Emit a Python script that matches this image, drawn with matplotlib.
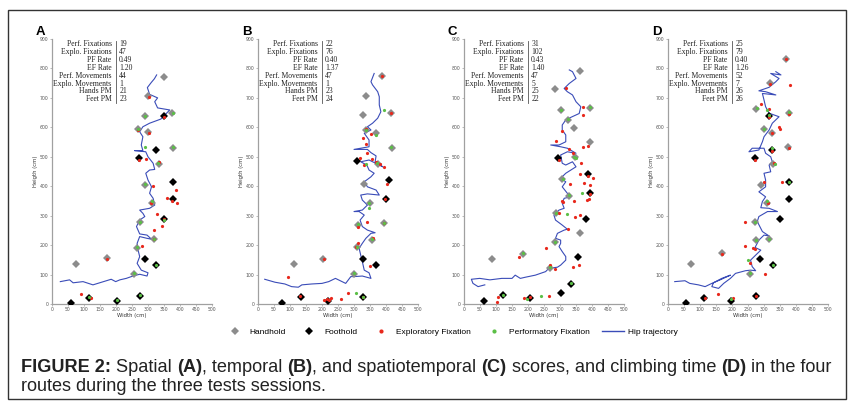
import numpy as np
import matplotlib
matplotlib.use('Agg')
from matplotlib import pyplot as plt
from matplotlib.lines import Line2D
from matplotlib.patches import Rectangle

W, H = 849, 405

stat_labels = ['Perf. Fixations', 'Explo. Fixations', 'PF Rate', 'EF Rate',
               'Perf. Movements', 'Explo. Movements', 'Hands PM', 'Feet PM']

# ---- panel A ----
a_stats = ['19', '47', '0.49', '1.20', '44', '1', '21', '23']
a_hand = [(350, 772), (300, 706), (291, 638), (376, 647), (269, 593), (300, 583), (377, 531), (335, 475),
          (292, 404), (312, 344), (274, 277), (319, 220), (267, 191), (173, 155), (76, 135), (257, 103)]
a_foot = [(349, 637), (326, 523), (272, 495), (379, 413), (379, 355), (349, 288), (290, 153), (325, 131),
          (276, 27), (202, 11), (115, 21), (60, 2)]
a_red = [(302, 704), (349, 635), (270, 591), (302, 580), (273, 489), (294, 492), (334, 483), (316, 401),
         (359, 359), (376, 351), (386, 387), (390, 342), (310, 342), (329, 307), (320, 252), (343, 264),
         (350, 289), (280, 197), (320, 220), (173, 153), (92, 33), (121, 21)]
a_green = [(290, 639), (377, 648), (269, 594), (291, 532), (377, 532), (330, 478), (291, 407), (312, 350),
           (274, 279), (319, 221), (267, 193), (257, 106), (325, 133), (349, 286), (117, 25), (276, 29),
           (202, 13)]
a_hip = [(26, 76), (55, 82), (66, 72), (97, 76), (128, 65), (149, 72), (170, 79), (185, 84), (199, 76),
         (212, 82), (232, 87), (253, 95), (274, 101), (297, 95), (300, 106), (279, 115), (266, 138),
         (274, 161), (269, 183), (266, 206), (274, 229), (297, 223), (311, 220), (297, 234), (274, 238),
         (264, 263), (274, 285), (290, 297), (284, 308), (274, 319), (305, 325), (321, 336), (316, 359),
         (305, 376), (311, 398), (300, 421), (293, 444), (305, 455), (321, 457), (316, 478), (300, 500),
         (293, 517), (258, 521), (284, 521), (279, 540), (284, 568), (274, 585), (284, 602), (305, 614),
         (340, 628), (368, 659), (330, 666), (321, 687), (330, 700), (305, 712), (298, 735), (310, 752),
         (320, 765), (327, 778)]

# ---- panel B ----
b_stats = ['22', '76', '0.40', '1.37', '47', '1', '23', '24']
b_hand = [(386, 774), (338, 707), (327, 642), (416, 650), (338, 591), (368, 582), (418, 530), (374, 475),
          (332, 406), (350, 344), (312, 267), (394, 276), (356, 217), (308, 192), (204, 152), (113, 135),
          (300, 103)]
b_foot = [(310, 485), (408, 422), (399, 355), (328, 152), (368, 134), (327, 23), (219, 10), (134, 23),
          (76, 5)]
b_red = [(386, 775), (416, 648), (339, 594), (354, 577), (327, 563), (338, 542), (340, 514), (318, 495),
         (332, 472), (355, 491), (369, 483), (382, 475), (393, 464), (404, 406), (397, 355), (395, 276),
         (342, 277), (311, 263), (311, 208), (307, 192), (360, 223), (350, 129), (205, 152), (93, 91),
         (130, 27), (207, 14), (228, 22), (258, 17), (281, 36), (328, 25), (215, 18), (222, 12)]
b_green = [(393, 658), (338, 592), (368, 575), (338, 475), (372, 478), (347, 342), (347, 327), (313, 271),
           (395, 274), (356, 220), (308, 195), (300, 105), (305, 36), (327, 25), (415, 532)]
b_hip = [(21, 84), (53, 74), (84, 68), (105, 59), (126, 57), (137, 65), (168, 68), (200, 70), (221, 76),
         (242, 87), (274, 70), (290, 93), (300, 93), (326, 95), (353, 87), (347, 106), (332, 115),
         (326, 144), (321, 166), (316, 189), (326, 206), (337, 223), (353, 240), (366, 242), (342, 251),
         (326, 263), (319, 285), (332, 302), (316, 314), (300, 314), (326, 319), (342, 336), (326, 353),
         (321, 370), (342, 374), (379, 370), (369, 387), (342, 398), (332, 415), (353, 432), (363, 444),
         (347, 455), (340, 472), (321, 483), (347, 489), (390, 466), (366, 483), (369, 503), (353, 514),
         (342, 525), (300, 525), (347, 534), (347, 557), (332, 580), (342, 585), (353, 591), (342, 602),
         (358, 614), (374, 631), (384, 653), (379, 676), (379, 704), (374, 721), (358, 744), (353, 755),
         (363, 783)]

# ---- panel C ----
c_stats = ['31', '102', '0.43', '1.40', '47', '5', '25', '22']
c_hand = [(362, 792), (284, 729), (304, 659), (393, 667), (326, 625), (343, 599), (394, 551), (347, 500),
          (307, 423), (328, 368), (289, 308), (363, 240), (284, 211), (183, 170), (88, 154), (270, 123)]
c_foot = [(295, 495), (386, 441), (394, 378), (382, 288), (357, 161), (334, 68), (302, 38), (205, 22),
          (121, 31), (63, 11)]
c_red = [(318, 733), (372, 670), (373, 642), (305, 588), (288, 555), (329, 525), (371, 532), (387, 538),
         (341, 512), (297, 490), (367, 480), (362, 443), (386, 434), (402, 429), (330, 408), (374, 412),
         (394, 403), (305, 350), (309, 345), (383, 353), (392, 355), (395, 373), (344, 350), (363, 302),
         (347, 297), (298, 308), (326, 254), (257, 190), (173, 158), (360, 134), (341, 127), (270, 131),
         (283, 118), (265, 28), (207, 25), (189, 20), (105, 25), (102, 8)]
c_green = [(304, 659), (393, 668), (326, 627), (349, 495), (343, 500), (310, 424), (369, 376), (328, 370),
           (289, 310), (322, 305), (284, 212), (183, 172), (270, 127), (334, 70), (240, 28), (197, 16),
           (121, 31)]
c_hip = [(65, 65), (44, 59), (28, 70), (23, 84), (49, 87), (81, 82), (118, 87), (150, 87), (160, 98),
         (176, 87), (192, 91), (223, 98), (255, 110), (265, 121), (292, 125), (302, 132), (318, 149),
         (318, 161), (307, 178), (297, 195), (302, 206), (302, 217), (286, 223), (292, 240), (313, 251),
         (323, 254), (307, 268), (286, 285), (281, 302), (297, 319), (313, 325), (307, 342), (313, 359),
         (334, 364), (323, 376), (307, 398), (318, 415), (302, 427), (318, 444), (334, 455), (350, 466),
         (339, 483), (318, 472), (307, 478), (302, 506), (323, 517), (350, 512), (323, 529), (302, 534),
         (271, 540), (297, 540), (318, 551), (318, 574), (307, 591), (307, 608), (318, 625), (334, 634),
         (360, 647), (365, 670), (350, 687), (339, 710), (323, 721), (313, 732), (329, 749), (350, 766),
         (339, 789), (329, 795)]

# ---- panel D ----
d_stats = ['25', '79', '0.40', '1.26', '52', '7', '26', '26']
d_hand = [(369, 831), (318, 749), (274, 662), (377, 650), (299, 593), (326, 582), (376, 534), (329, 475),
          (290, 404), (309, 342), (272, 277), (274, 217), (316, 220), (168, 172), (72, 135), (256, 101)]
d_foot = [(316, 639), (326, 523), (272, 495), (377, 413), (379, 355), (349, 288), (289, 152), (327, 131),
          (274, 28), (198, 11), (113, 22), (56, 2)]
d_red = [(369, 831), (320, 747), (381, 745), (292, 678), (316, 662), (316, 634), (377, 645), (346, 602),
         (351, 593), (326, 580), (377, 531), (326, 520), (272, 489), (331, 480), (356, 415), (301, 415),
         (311, 344), (241, 277), (168, 170), (240, 197), (266, 191), (272, 186), (255, 140), (303, 102),
         (156, 34), (116, 22), (202, 19), (274, 28)]
d_green = [(279, 666), (308, 660), (316, 642), (377, 652), (299, 595), (325, 529), (335, 477), (309, 350),
           (272, 279), (274, 219), (316, 222), (249, 150), (256, 104), (327, 134), (379, 416), (198, 16)]
d_hip = [(21, 76), (53, 79), (68, 70), (95, 65), (116, 59), (137, 70), (163, 82), (195, 98), (168, 87),
         (142, 72), (137, 59), (158, 53), (174, 70), (195, 87), (211, 104), (242, 113), (258, 115),
         (274, 113), (263, 127), (258, 149), (274, 166), (290, 183), (272, 192), (284, 217), (300, 234),
         (316, 231), (295, 246), (279, 280), (284, 297), (311, 314), (342, 314), (316, 325), (290, 327),
         (295, 348), (305, 364), (284, 381), (305, 398), (305, 421), (300, 444), (321, 449), (316, 472),
         (326, 483), (321, 500), (305, 512), (300, 529), (263, 529), (253, 517), (284, 523), (295, 551),
         (300, 568), (316, 591), (326, 614), (347, 636), (316, 648), (305, 670), (300, 693), (295, 715),
         (337, 710), (305, 721), (284, 724), (316, 736), (337, 755), (347, 766), (321, 783), (353, 778),
         (337, 789)]

panels = [
    ('A', 52, a_stats, a_hand, a_foot, a_red, a_green, a_hip),
    ('B', 258, b_stats, b_hand, b_foot, b_red, b_green, b_hip),
    ('C', 464, c_stats, c_hand, c_foot, c_red, c_green, c_hip),
    ('D', 668, d_stats, d_hand, d_foot, d_red, d_green, d_hip),
]

HAND_C = '#8c8c8c'
RED_C = '#e8281c'
GREEN_C = '#5bbf46'
HIP_C = '#3a4cb8'
AX_C = '#a0a0a0'


def xy(pts):
    a = np.array(pts, dtype=float)
    return a[:, 0], a[:, 1]


fig = plt.figure(figsize=(W / 100, H / 100), dpi=100)

ax_top, ax_bot, ax_w = 39, 304, 160
for letter, left, stats, hand, foot, red, green, hip in panels:
    ax = fig.add_axes([left / W, 1 - ax_bot / H, ax_w / W, (ax_bot - ax_top) / H])
    ax.set_xlim(0, 500)
    ax.set_ylim(0, 900)
    ax.set_xticks(np.arange(0, 501, 50))
    ax.set_yticks(np.arange(0, 901, 100))
    for s in ['top', 'right']:
        ax.spines[s].set_visible(False)
    for s in ['left', 'bottom']:
        ax.spines[s].set_color(AX_C)
        ax.spines[s].set_linewidth(0.9)
    ax.tick_params(labelsize=3.3, length=1.5, width=0.5, color=AX_C, labelcolor='#555555', pad=1)
    ax.set_xlabel('Width (cm)', fontsize=3.8, labelpad=0.5, color='#333333')
    ax.set_ylabel('Heigth (cm)', fontsize=3.8, labelpad=1, color='#333333')

    hx, hy = xy(hip)
    ax.plot(hx, hy, color=HIP_C, lw=0.8, zorder=2)
    x, y = xy(hand)
    ax.plot(x, y, 'D', color=HAND_C, ms=4.0, mew=0, zorder=3)
    x, y = xy(foot)
    ax.plot(x, y, 'D', color='black', ms=4.0, mew=0, zorder=3)
    x, y = xy(red)
    ax.plot(x, y, 'o', color=RED_C, ms=2.3, mew=0, zorder=4)
    x, y = xy(green)
    ax.plot(x, y, 'o', color=GREEN_C, ms=2.3, mew=0, zorder=5)

    # stats table
    for i, (lab, val) in enumerate(zip(stat_labels, stats)):
        yy = 0.981 - i * 0.0298
        ax.text(0.372, yy, lab, transform=ax.transAxes, ha='right', va='center',
                fontsize=5.5, family='Liberation Serif', color='#222222')
        ax.text(0.42, yy, val, transform=ax.transAxes, ha='left', va='center',
                fontsize=5.5, family='Liberation Serif', color='#222222')
    ax.plot([0.397, 0.397], [0.992, 0.758], transform=ax.transAxes, color='#555555',
            lw=0.6, clip_on=False)

    fig.text((left - 16) / W, 1 - 32 / H, letter, fontsize=9.5, fontweight='bold',
             ha='left', va='center', family='Liberation Sans')

# legend
handles = [
    Line2D([], [], ls='none', marker='D', color=HAND_C, ms=3.8, mew=0),
    Line2D([], [], ls='none', marker='D', color='black', ms=3.8, mew=0),
    Line2D([], [], ls='none', marker='o', color=RED_C, ms=3.0, mew=0),
    Line2D([], [], ls='none', marker='o', color=GREEN_C, ms=3.0, mew=0),
    Line2D([], [], color=HIP_C, lw=1.0),
]
labels = ['Handhold', 'Foothold', 'Exploratory Fixation', 'Performatory Fixation', 'Hip trajectory']
fig.legend(handles, labels, loc='center', bbox_to_anchor=(451 / W, 1 - 332 / H), ncol=5,
           frameon=False, prop={'family': 'Liberation Sans', 'size': 6},
           handlelength=2.6, handletextpad=0.5, columnspacing=1.5)

# frame
fig.patches.append(Rectangle((8 / W, 1 - 399 / H), (846 - 8) / W, (399 - 10) / H,
                             transform=fig.transFigure, fill=False, ec='#333333', lw=1.0))

# caption with bold runs
CAP_FONT = ['Liberation Sans']


def rich_line(x_px, y_px, runs, size):
    rend = fig.canvas.get_renderer()
    x = x_px
    for txt, bold in runs:
        t = fig.text(x / W, 1 - y_px / H, txt, fontsize=size, va='baseline', ha='left',
                     fontweight='bold' if bold else 'normal', family=CAP_FONT, color='#222222')
        x += t.get_window_extent(rend).width


rich_line(21, 372, [('FIGURE 2:', True), (' Spatial ', False), ('(A)', True), (', temporal ', False),
                    ('(B)', True), (', and spatiotemporal ', False), ('(C)', True),
                    (' scores, and climbing time ', False), ('(D)', True), (' in the four', False)], 13.1)
rich_line(21, 391, [('routes during the three tests sessions.', False)], 13.1)

fig.savefig('out.png', dpi=100)
